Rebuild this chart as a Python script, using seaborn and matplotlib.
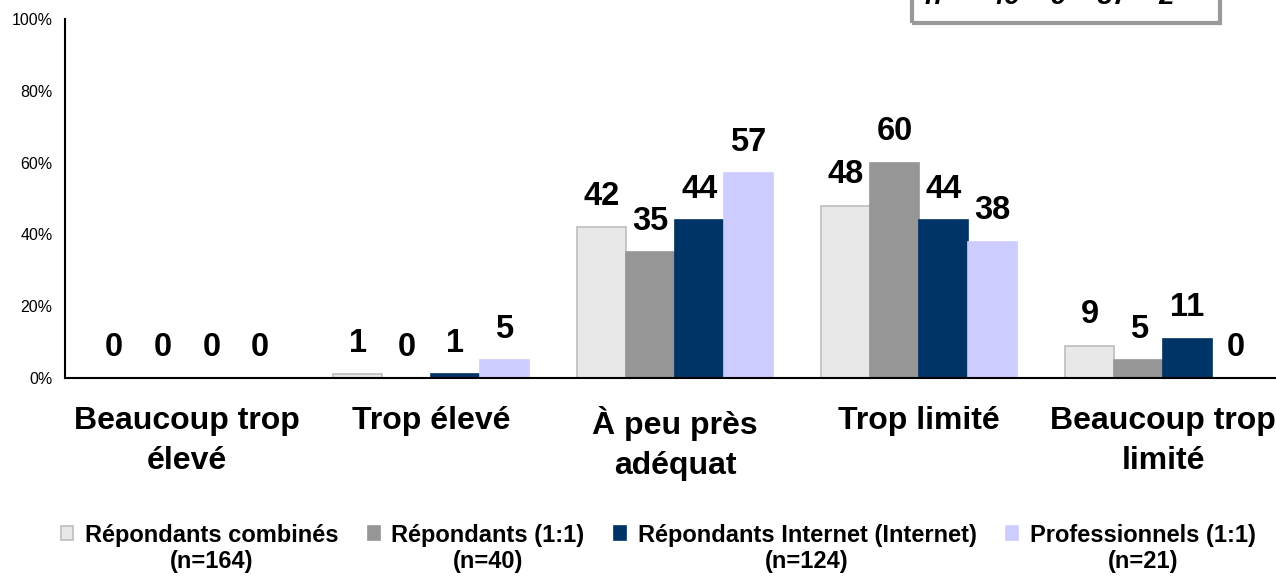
import pandas as pd
import matplotlib.pyplot as plt
import matplotlib.ticker as ticker
from matplotlib.patches import Patch, Rectangle
import seaborn as sns

# ── DATA ──────────────────────────────────────────────────────────────────────

categories = ["Beaucoup trop\nélevé", "Trop élevé", "À peu près\nadéquat",
              "Trop limité", "Beaucoup trop\nlimité"]
groups = ["Répondants combinés", "Répondants (1:1)",
          "Répondants Internet (Internet)", "Professionnels (1:1)"]
group_n = ["(n=164)", "(n=40)", "(n=124)", "(n=21)"]
combines = [0, 1, 42, 48, 9]
repondants_11 = [0, 0, 35, 60, 5]
internet = [0, 1, 44, 44, 11]
professionnels = [0, 5, 57, 38, 0]
box_text = "n=    49    9    37    2"

colors = {groups[0]: "#E8E8E8", groups[1]: "#969696",
          groups[2]: "#003366", groups[3]: "#CCCCFF"}
edges = {groups[0]: "#BDBDBD", groups[1]: "#969696",
         groups[2]: "#003366", groups[3]: "#CCCCFF"}

df = pd.DataFrame({
    "categorie": categories * 4,
    "groupe": sum([[g] * len(categories) for g in groups], []),
    "pct": combines + repondants_11 + internet + professionnels,
})

# ── PLOT ──────────────────────────────────────────────────────────────────────

sns.set_theme(style="white")
plt.rcParams["font.family"] = ["Liberation Sans", "DejaVu Sans"]
plt.rcParams["text.color"] = "black"
plt.rcParams["xtick.color"] = "black"
plt.rcParams["ytick.color"] = "black"

fig = plt.figure(figsize=(12.76, 5.77), dpi=100)
ax = fig.add_axes([65 / 1276, 1 - 378 / 577, 1220 / 1276, 359 / 577])

sns.barplot(data=df, x="categorie", y="pct", hue="groupe", order=categories,
            hue_order=groups, palette=colors, width=0.8, saturation=1,
            legend=False, ax=ax)

for cont, g in zip(ax.containers, groups):
    for bar in cont:
        bar.set_edgecolor(edges[g])
        bar.set_linewidth(1.2)
    ax.bar_label(cont, fmt="%d", padding=11, fontsize=23.5, fontweight="bold",
                 color="black")

ax.set_ylim(0, 100)
ax.set_xlim(-0.5, 4.5)
ax.yaxis.set_major_locator(ticker.MultipleLocator(20))
ax.yaxis.set_major_formatter(ticker.PercentFormatter(decimals=0))
ax.tick_params(axis="y", labelsize=11.5, length=0, pad=9, labelcolor="black")
ax.tick_params(axis="x", labelsize=23, length=0, pad=20, labelcolor="black")
for lbl in ax.get_xticklabels():
    lbl.set_fontweight("bold")
    lbl.set_linespacing(1.45)
ax.set_xlabel("")
ax.set_ylabel("")
sns.despine(ax=ax)
ax.spines["left"].set_color("black")
ax.spines["bottom"].set_color("black")
ax.spines["left"].set_linewidth(1.5)
ax.spines["bottom"].set_linewidth(1.5)

# legend: first line in the legend, n= line centred underneath
handles = [Patch(facecolor=colors[g], edgecolor=edges[g], lw=1.2) for g in groups]
leg = fig.legend(handles, groups, loc="lower center", bbox_to_anchor=(0.516, 0.032),
                 ncol=4, frameon=False, prop={"size": 17, "weight": "bold"},
                 handlelength=0.5, handleheight=0.55, handletextpad=0.5,
                 columnspacing=1.25, borderpad=0)
fig.canvas.draw()
inv = fig.transFigure.inverted()
for t, n in zip(leg.get_texts(), group_n):
    bb = t.get_window_extent().transformed(inv)
    fig.text((bb.x0 + bb.x1) / 2, bb.y0 - 0.006, n, ha="center", va="top",
             fontsize=17, fontweight="bold")

# clipped n= box at the top right
fig.patches.append(Rectangle((912 / 1276, 1 - 23 / 577), 308 / 1276, 0.1,
                             transform=fig.transFigure, fill=False,
                             edgecolor="#999999", lw=3))
fig.text(925 / 1276, 1 - 4 / 577, box_text, fontsize=20, fontweight="bold",
         fontstyle="italic", va="baseline", ha="left")

fig.savefig("out.png", dpi=100)
